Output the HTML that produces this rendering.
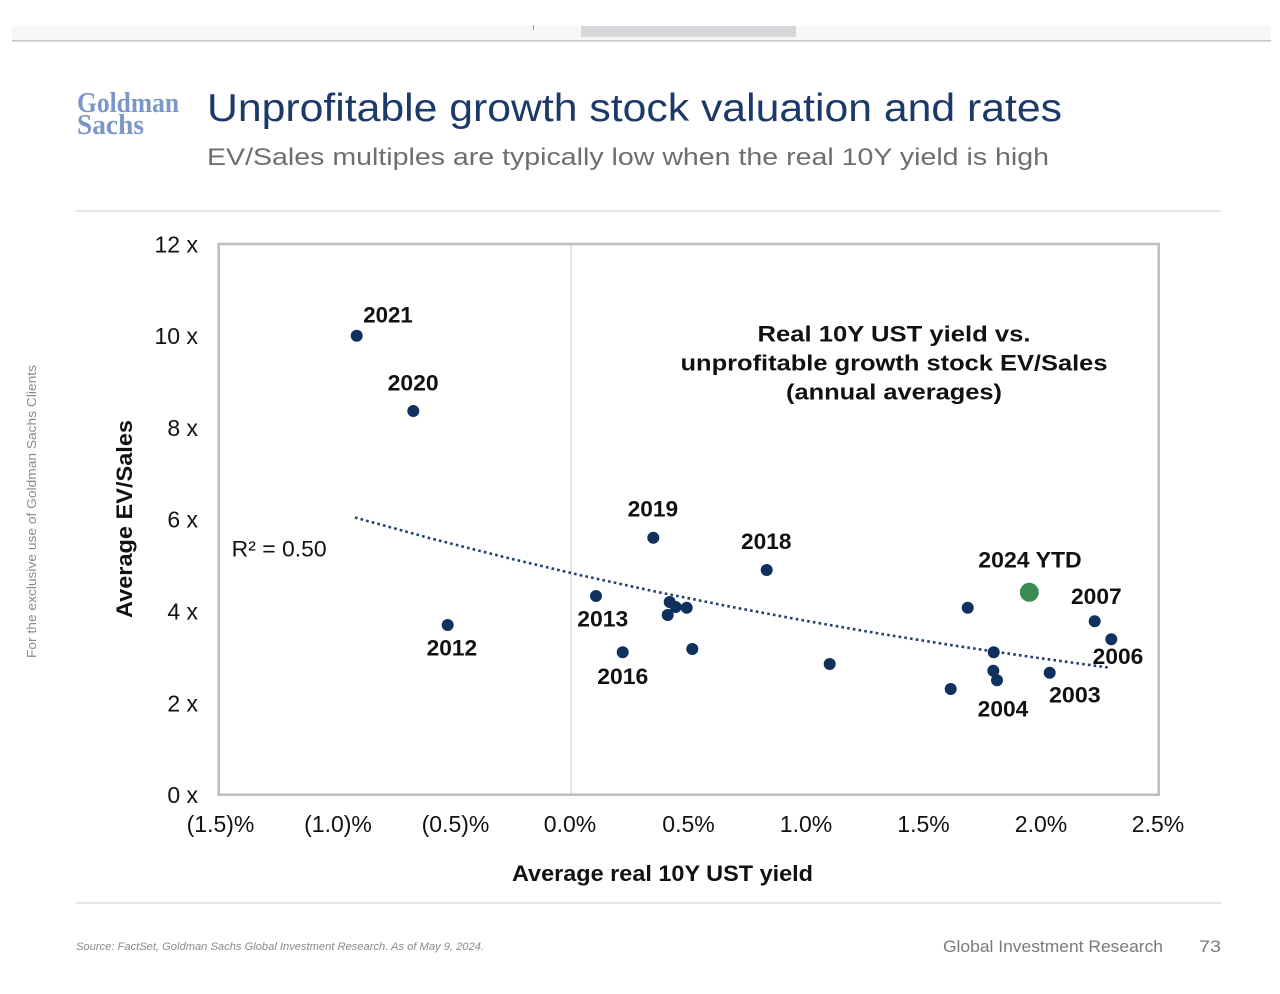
<!DOCTYPE html>
<html>
<head>
<meta charset="utf-8">
<style>
  html, body { margin:0; padding:0; background:#ffffff; }
  svg { display:block; }
  text { font-family: "Liberation Sans", Arial, sans-serif; }
</style>
</head>
<body>
<svg width="1280" height="994" viewBox="0 0 1280 994" xmlns="http://www.w3.org/2000/svg">
  <rect x="0" y="0" width="1280" height="994" fill="#ffffff"/>

  <!-- top scroll bar -->
  <rect x="12" y="26" width="1259" height="14" fill="#f7f7f7"/>
  <rect x="581" y="26" width="215" height="11" fill="#d6d6db"/>
  <rect x="533" y="25" width="1" height="5" fill="#a0a0a0"/>
  <rect x="12" y="40" width="1259" height="1.6" fill="#c6c6c6"/>

  <!-- logo -->
  <text x="77" y="112" font-weight="bold" font-size="29" fill="#7a97c8" textLength="102" lengthAdjust="spacingAndGlyphs" style="font-family:'Liberation Serif',serif">Goldman</text>
  <text x="77" y="134" font-weight="bold" font-size="29" fill="#7a97c8" textLength="67" lengthAdjust="spacingAndGlyphs" style="font-family:'Liberation Serif',serif">Sachs</text>

  <!-- title / subtitle -->
  <text x="207" y="121" font-size="39" fill="#1b3a6a" textLength="855" lengthAdjust="spacingAndGlyphs">Unprofitable growth stock valuation and rates</text>
  <text x="207" y="165" font-size="24" fill="#6e6e6e" textLength="842" lengthAdjust="spacingAndGlyphs">EV/Sales multiples are typically low when the real 10Y yield is high</text>

  <!-- separators -->
  <rect x="76" y="210" width="1145" height="2" fill="#e6e6e6"/>
  <rect x="76" y="902" width="1145" height="2" fill="#e6e6e6"/>

  <!-- side watermark -->
  <text transform="translate(36,511.5) rotate(-90)" text-anchor="middle" font-size="13" fill="#8a8a8a" textLength="293" lengthAdjust="spacingAndGlyphs">For the exclusive use of Goldman Sachs Clients</text>

  <!-- y axis title -->
  <text transform="translate(132,519) rotate(-90)" text-anchor="middle" font-size="22" font-weight="bold" fill="#111" textLength="198" lengthAdjust="spacingAndGlyphs">Average EV/Sales</text>

  <!-- plot box -->
  <line x1="571" y1="244" x2="571" y2="794.7" stroke="#cfcfcf" stroke-width="1.2"/>
  <rect x="218.7" y="244" width="940" height="550.7" fill="none" stroke="#bdbdbd" stroke-width="2.5"/>

  <!-- y tick labels -->
  <g font-size="23" fill="#111" text-anchor="end">
    <text x="198" y="252.3">12 x</text>
    <text x="198" y="344.1">10 x</text>
    <text x="198" y="435.9">8 x</text>
    <text x="198" y="527.7">6 x</text>
    <text x="198" y="619.5">4 x</text>
    <text x="198" y="711.3">2 x</text>
    <text x="198" y="803">0 x</text>
  </g>

  <!-- x tick labels -->
  <g font-size="23" fill="#111" text-anchor="middle">
    <text x="220.5" y="832">(1.5)%</text>
    <text x="338" y="832">(1.0)%</text>
    <text x="455.5" y="832">(0.5)%</text>
    <text x="570" y="832">0.0%</text>
    <text x="688.5" y="832">0.5%</text>
    <text x="806" y="832">1.0%</text>
    <text x="923.5" y="832">1.5%</text>
    <text x="1041" y="832">2.0%</text>
    <text x="1158" y="832">2.5%</text>
  </g>

  <!-- x axis title -->
  <text x="512" y="881" font-size="22" font-weight="bold" fill="#111" textLength="301" lengthAdjust="spacingAndGlyphs">Average real 10Y UST yield</text>

  <!-- annotation box text -->
  <g font-size="22" font-weight="bold" fill="#111" text-anchor="middle">
    <text x="894" y="341.7" textLength="273" lengthAdjust="spacingAndGlyphs">Real 10Y UST yield vs.</text>
    <text x="894" y="370.7" textLength="427" lengthAdjust="spacingAndGlyphs">unprofitable growth stock EV/Sales</text>
    <text x="894" y="399.5" textLength="216" lengthAdjust="spacingAndGlyphs">(annual averages)</text>
  </g>

  <!-- R squared -->
  <text x="231.7" y="556.7" font-size="22" fill="#111" textLength="95" lengthAdjust="spacingAndGlyphs">R² = 0.50</text>

  <!-- trendline -->
  <polyline fill="none" stroke="#1f3f6e" stroke-width="2.6" stroke-dasharray="2.6 3.2"
    points="355,517.5 430,538.2 505,557.3 580,575.1 655,591.5 730,606.6 805,620.7 880,633.7 955,645.7 1030,656.8 1108,667.5"/>

  <!-- points -->
  <g fill="#10305e">
    <circle cx="356.7" cy="335.7" r="6"/>
    <circle cx="413.3" cy="411" r="6"/>
    <circle cx="447.7" cy="625" r="6"/>
    <circle cx="596" cy="596" r="6"/>
    <circle cx="622.7" cy="652.3" r="6"/>
    <circle cx="653.3" cy="537.7" r="6"/>
    <circle cx="669.7" cy="602" r="6"/>
    <circle cx="675.7" cy="607" r="6"/>
    <circle cx="686.7" cy="607.7" r="6"/>
    <circle cx="667.7" cy="615" r="6"/>
    <circle cx="692.3" cy="649" r="6"/>
    <circle cx="766.7" cy="570" r="6"/>
    <circle cx="829.7" cy="664" r="6"/>
    <circle cx="950.7" cy="689" r="6"/>
    <circle cx="967.7" cy="607.7" r="6"/>
    <circle cx="993.7" cy="652.3" r="6"/>
    <circle cx="993.3" cy="670.7" r="6"/>
    <circle cx="997" cy="680.3" r="6"/>
    <circle cx="1049.7" cy="672.7" r="6"/>
    <circle cx="1094.7" cy="621.3" r="6"/>
    <circle cx="1111.3" cy="639.3" r="6"/>
  </g>
  <circle cx="1029.3" cy="592.3" r="9.5" fill="#3b8c50"/>

  <!-- point labels -->
  <g font-size="22" font-weight="bold" fill="#111">
    <text x="363.3" y="322.3" textLength="49.5" lengthAdjust="spacingAndGlyphs">2021</text>
    <text x="387.7" y="390.7" textLength="51" lengthAdjust="spacingAndGlyphs">2020</text>
    <text x="426.7" y="655.7" textLength="50.5" lengthAdjust="spacingAndGlyphs">2012</text>
    <text x="627.7" y="516.7" textLength="50.5" lengthAdjust="spacingAndGlyphs">2019</text>
    <text x="741" y="549" textLength="50.5" lengthAdjust="spacingAndGlyphs">2018</text>
    <text x="577.3" y="626.7" textLength="51" lengthAdjust="spacingAndGlyphs">2013</text>
    <text x="597.3" y="684" textLength="51" lengthAdjust="spacingAndGlyphs">2016</text>
    <text x="978.3" y="567.5" textLength="103.4" lengthAdjust="spacingAndGlyphs">2024 YTD</text>
    <text x="1071" y="604" textLength="50.7" lengthAdjust="spacingAndGlyphs">2007</text>
    <text x="1092.7" y="664" textLength="50.6" lengthAdjust="spacingAndGlyphs">2006</text>
    <text x="1049" y="702.3" textLength="51.7" lengthAdjust="spacingAndGlyphs">2003</text>
    <text x="977.7" y="716.7" textLength="50.6" lengthAdjust="spacingAndGlyphs">2004</text>
  </g>

  <!-- footer -->
  <text x="76" y="950" font-size="11" font-style="italic" fill="#8a8a8a" textLength="408" lengthAdjust="spacingAndGlyphs">Source: FactSet, Goldman Sachs Global Investment Research. As of May 9, 2024.</text>
  <text x="943" y="952" font-size="16.5" fill="#7a7a7a" textLength="220" lengthAdjust="spacingAndGlyphs">Global Investment Research</text>
  <text x="1199" y="952" font-size="16.5" fill="#7a7a7a" textLength="22" lengthAdjust="spacingAndGlyphs">73</text>
</svg>
</body>
</html>
